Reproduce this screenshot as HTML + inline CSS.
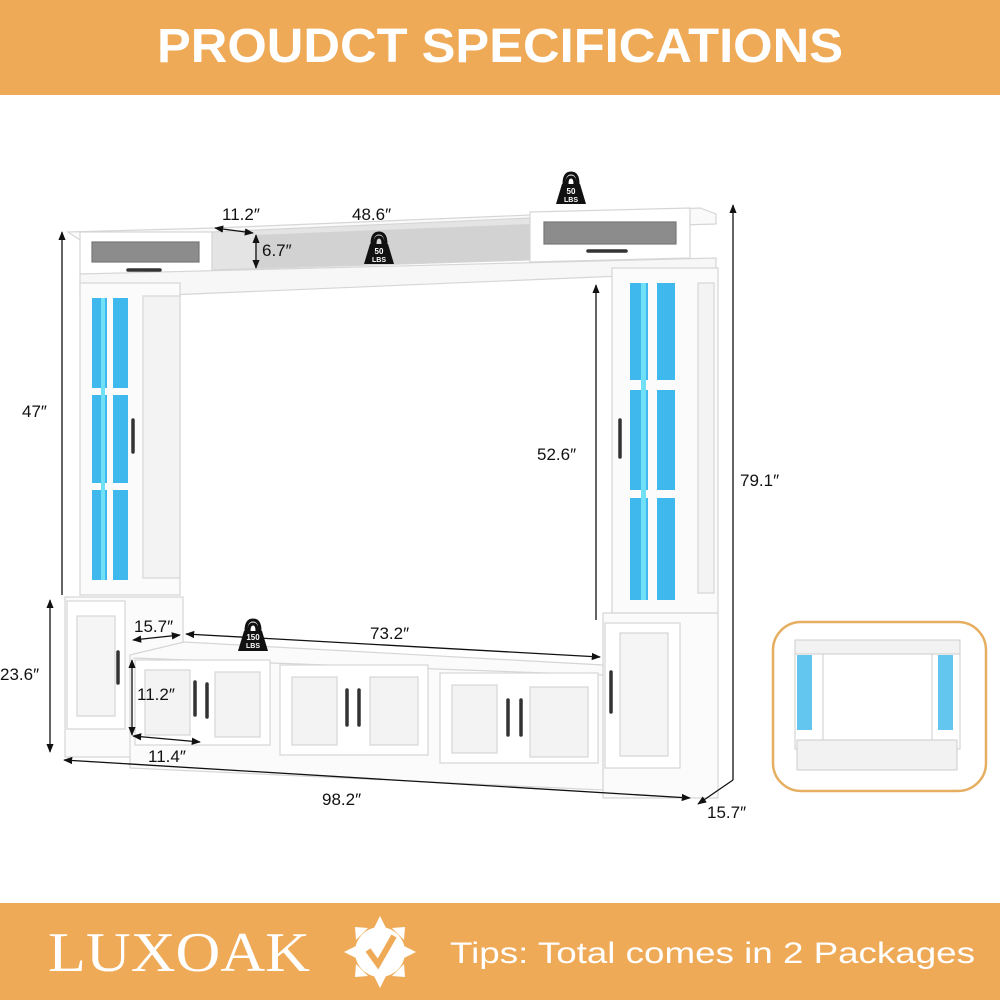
<!DOCTYPE html>
<html><head><meta charset="utf-8"><style>
html,body{margin:0;padding:0;background:#fff;}
svg{display:block;}
text{font-family:"Liberation Sans",sans-serif;}
</style></head><body>
<svg width="1000" height="1000" viewBox="0 0 1000 1000" xmlns="http://www.w3.org/2000/svg">
<defs>
<marker id="ar" viewBox="0 0 10 10" refX="9" refY="5" markerWidth="7" markerHeight="7" orient="auto-start-reverse"><path d="M0,1 L10,5 L0,9 z" fill="#111"/></marker>
<g id="wt"><path d="M-7,-6 Q-7,-17 0,-17 Q7,-17 7,-6 M-4,-6 Q-4,-13 0,-13 Q4,-13 4,-6" fill="none" stroke="#111" stroke-width="3"/><path d="M-9,-6 L9,-6 L15,14 L-15,14 z" fill="#111"/></g>
</defs>
<rect x="0" y="0" width="1000" height="95" fill="#EFAA58"/>
<text x="157" y="62" font-size="48" font-weight="bold" fill="#fff" textLength="686" lengthAdjust="spacingAndGlyphs">PROUDCT SPECIFICATIONS</text>

<g stroke="#d6d6d6" stroke-width="1.2" fill="#fff">
<path d="M68,232 L215,228 L700,208 L716,214 L716,224 L214,238 L80,240 Z" fill="#fafafa"/>
<rect x="80" y="232" width="132" height="42"/>
<rect x="92" y="242" width="107" height="20" fill="#8c8c8c" stroke="#777"/>
<path d="M212,232 L530,218 L530,260 L212,270 Z" fill="#e4e4e4"/>
<path d="M255,235 L530,224 L530,260 L255,268 Z" fill="#d2d2d2" stroke="none"/>
<path d="M530,212 L690,208 L690,258 L530,262 Z"/>
<rect x="544" y="222" width="132" height="22" fill="#8c8c8c" stroke="#777"/>
<path d="M80,274 L716,258 L716,272 L145,296 L80,296 Z" fill="#f7f7f7"/>
<rect x="80" y="283" width="100" height="312" fill="#fbfbfb"/>
<rect x="143" y="296" width="37" height="282" fill="#f3f3f3"/>
<rect x="612" y="268" width="106" height="345" fill="#fbfbfb"/>
<rect x="698" y="283" width="16" height="310" fill="#f3f3f3"/>
<rect x="65" y="597" width="118" height="160" fill="#fbfbfb"/>
<rect x="67" y="601" width="58" height="128"/>
<rect x="77" y="616" width="38" height="100" fill="#f5f5f5"/>
<rect x="603" y="613" width="115" height="185" fill="#fbfbfb"/>
<rect x="605" y="623" width="75" height="145"/>
<rect x="620" y="633" width="48" height="123" fill="#f5f5f5"/>
<path d="M130,655 L184,642 L603,665 L603,790 L130,768 Z" fill="#fbfbfb"/>
<path d="M133,658 L603,675" />
<rect x="135" y="660" width="135" height="85"/>
<rect x="145" y="670" width="45" height="65" fill="#f3f3f3"/>
<rect x="215" y="672" width="45" height="65" fill="#f3f3f3"/>
<rect x="280" y="665" width="148" height="90"/>
<rect x="292" y="677" width="45" height="68" fill="#f3f3f3"/>
<rect x="370" y="677" width="48" height="68" fill="#f3f3f3"/>
<rect x="440" y="673" width="158" height="90"/>
<rect x="452" y="685" width="45" height="68" fill="#f3f3f3"/>
<rect x="530" y="687" width="58" height="70" fill="#f3f3f3"/>
</g>
<g fill="#3FB8EE">
<rect x="92" y="298" width="15" height="90"/><rect x="113" y="298" width="15" height="90"/>
<rect x="92" y="395" width="15" height="88"/><rect x="113" y="395" width="15" height="88"/>
<rect x="92" y="490" width="15" height="90"/><rect x="113" y="490" width="15" height="90"/>
<rect x="630" y="283" width="18" height="97"/><rect x="657" y="283" width="18" height="97"/>
<rect x="630" y="390" width="18" height="100"/><rect x="657" y="390" width="18" height="100"/>
<rect x="630" y="498" width="18" height="102"/><rect x="657" y="498" width="18" height="102"/>
</g>
<g fill="#6fe0f5"><rect x="101" y="298" width="4" height="282"/><rect x="641" y="283" width="5" height="317"/></g>
<g stroke="#333" stroke-width="3.5" fill="none" stroke-linecap="round">
<path d="M128,270 L160,270"/><path d="M588,251 L626,251"/>
<path d="M133,420 L133,452"/><path d="M620,420 L620,457"/>
<path d="M118,652 L118,683"/><path d="M611,672 L611,712"/>
<path d="M195,682 L195,715"/><path d="M207,684 L207,717"/>
<path d="M347,690 L347,725"/><path d="M359,690 L359,725"/>
<path d="M508,700 L508,735"/><path d="M521,700 L521,735"/>
</g>
<g stroke="#111" stroke-width="1.3" fill="none">
<line x1="62" y1="595" x2="62" y2="232" marker-end="url(#ar)"/>
<line x1="50" y1="752" x2="50" y2="600" marker-start="url(#ar)" marker-end="url(#ar)"/>
<line x1="215" y1="228" x2="253" y2="233" marker-start="url(#ar)" marker-end="url(#ar)"/>
<line x1="256" y1="235" x2="256" y2="268" marker-start="url(#ar)" marker-end="url(#ar)"/>
<line x1="596" y1="285" x2="596" y2="620"  marker-start="url(#ar)"/>
<line x1="733" y1="205" x2="733" y2="780" marker-start="url(#ar)"/>
<line x1="733" y1="780" x2="698" y2="804" marker-end="url(#ar)"/>
<line x1="64" y1="760" x2="690" y2="798" marker-start="url(#ar)" marker-end="url(#ar)"/>
<line x1="133" y1="640" x2="180" y2="635" marker-start="url(#ar)" marker-end="url(#ar)"/>
<line x1="186" y1="634" x2="600" y2="657" marker-start="url(#ar)" marker-end="url(#ar)"/>
<line x1="132" y1="660" x2="132" y2="735" marker-start="url(#ar)" marker-end="url(#ar)"/>
<line x1="133" y1="736" x2="200" y2="742" marker-start="url(#ar)" marker-end="url(#ar)"/>
</g>
<g transform="translate(379,250)"><use href="#wt"/><text y="4" text-anchor="middle" font-size="8" font-weight="bold" fill="#fff">50</text><text y="12" text-anchor="middle" font-size="7" font-weight="bold" fill="#fff">LBS</text></g>
<g transform="translate(571,190)"><use href="#wt"/><text y="4" text-anchor="middle" font-size="8" font-weight="bold" fill="#fff">50</text><text y="12" text-anchor="middle" font-size="7" font-weight="bold" fill="#fff">LBS</text></g>
<g transform="translate(253,637)"><use href="#wt"/><text y="3" text-anchor="middle" font-size="8" font-weight="bold" fill="#fff">150</text><text y="11" text-anchor="middle" font-size="7" font-weight="bold" fill="#fff">LBS</text></g>
<g font-size="17" fill="#111">
<text x="222" y="220">11.2″</text>
<text x="352" y="220">48.6″</text>
<text x="262" y="256">6.7″</text>
<text x="22" y="417">47″</text>
<text x="537" y="460">52.6″</text>
<text x="740" y="486">79.1″</text>
<text x="0" y="680">23.6″</text>
<text x="134" y="632">15.7″</text>
<text x="370" y="639">73.2″</text>
<text x="137" y="700">11.2″</text>
<text x="148" y="762">11.4″</text>
<text x="322" y="805">98.2″</text>
<text x="707" y="818">15.7″</text>
</g>
<rect x="773" y="622" width="213" height="169" rx="28" fill="#fff" stroke="#E6AE60" stroke-width="2.5"/>
<g stroke="#ccc" fill="#f2f2f2">
<rect x="795" y="640" width="165" height="14"/>
<rect x="795" y="654" width="28" height="95" fill="#fff"/>
<rect x="932" y="654" width="28" height="95" fill="#fff"/>
<rect x="797" y="740" width="160" height="30"/>
</g>
<g fill="#62c6ee"><rect x="797" y="655" width="15" height="75"/><rect x="938" y="655" width="15" height="75"/></g>
<rect x="0" y="903" width="1000" height="97" fill="#EFAA58"/>
<text x="48" y="971" font-size="56" fill="#fff" textLength="262" lengthAdjust="spacingAndGlyphs" style="font-family:'Liberation Serif',serif">LUXOAK</text>
<g transform="translate(380,952)">
<circle r="25" fill="#fff"/>
<g fill="#fff"><polygon points="0,-36 7,-22 -7,-22"/><polygon points="0,36 7,22 -7,22"/><polygon points="-36,0 -22,7 -22,-7"/><polygon points="36,0 22,7 22,-7"/><polygon points="25,-25 12,-24 24,-12"/><polygon points="-25,25 -12,24 -24,12"/><polygon points="-25,-25 -12,-24 -24,-12"/><polygon points="25,25 12,24 24,12"/></g>
<path d="M-12,-2 L-2,12 L14,-16" fill="none" stroke="#EFAA58" stroke-width="6"/>
</g>
<text x="450" y="963" font-size="30" fill="#fff" textLength="525" lengthAdjust="spacingAndGlyphs">Tips: Total comes in 2 Packages</text>
</svg>
</body></html>
